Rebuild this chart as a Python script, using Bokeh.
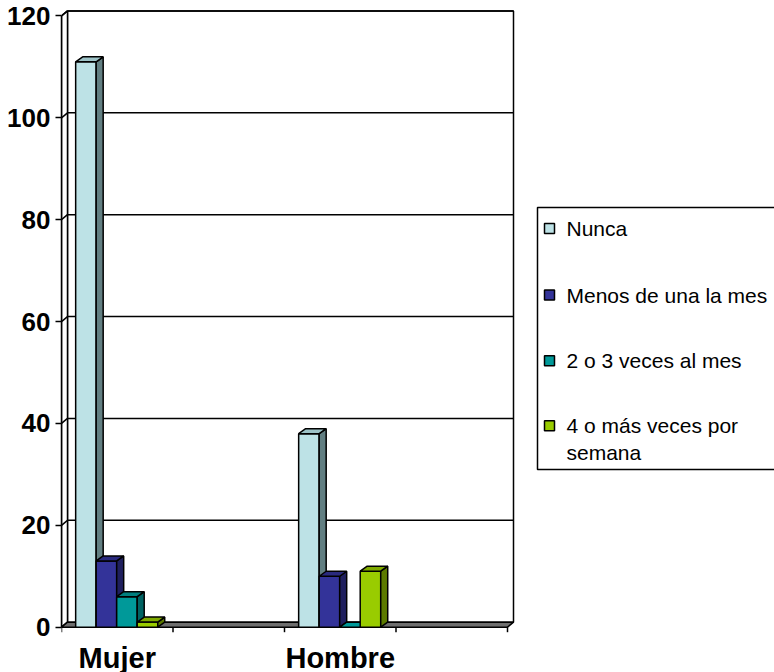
from bokeh.plotting import figure
from bokeh.models import Range1d, LinearAxis, FixedTicker, ColumnDataSource
from bokeh.core.properties import value
from bokeh.embed import file_html
from bokeh.resources import INLINE

# ---- data -------------------------------------------------------------
categories = ["Mujer", "Hombre"]
series_names = ["Nunca", "Menos de una la mes", "2 o 3 veces al mes", "4 o más veces por\nsemana"]
nunca = [111, 38]
menos_de_una = [13, 10]
dos_o_tres = [6, 0]
cuatro_o_mas = [1, 11]
y_ticks = [0, 20, 40, 60, 80, 100, 120]

series = [nunca, menos_de_una, dos_o_tres, cuatro_o_mas]

# face colours per series: front, top, side
front_colors = ["#BDE2E6", "#333399", "#009999", "#99CC00"]
top_colors = ["#9DC3C7", "#2A2A7E", "#007E7E", "#7FAA00"]
side_colors = ["#627F82", "#1F1F5E", "#006363", "#5C7A00"]

# ---- layout (pixels) ----------------------------------------------------
W, H = 774, 672
LEFT = 61            # x pixel of the front value axis
XS = 111.5           # pixels per category slot
Y0 = 626.7           # y pixel (from top) of value 0
YS = 5.094           # pixels per unit of value
N_SLOTS = 4
CATEGORY_SLOTS = [0, 2]
GROUP_OFFSET = 0.127
BAR_W = 0.184

WALL_DX, WALL_DY = 6 / XS, 5 / YS
BAR_DX, BAR_DY = 7 / XS, 5 / YS


def px_x(px):
    return (px - LEFT) / XS


def px_y(py):
    return (Y0 - py) / YS


p = figure(width=W, height=H,
           x_range=Range1d(0, (W - LEFT) / XS),
           y_range=Range1d(-(H - Y0) / YS, Y0 / YS),
           x_axis_location=None, y_axis_location=None,
           min_border_left=LEFT, min_border_right=0,
           min_border_top=0, min_border_bottom=0,
           output_backend="svg", toolbar_location=None)
p.outline_line_color = None
p.grid.visible = False
p.background_fill_color = "white"
p.border_fill_color = "white"

top_val = y_ticks[-1]
right = N_SLOTS

# back wall and left side wall
p.patch([WALL_DX, right + WALL_DX, right + WALL_DX, WALL_DX],
        [WALL_DY, WALL_DY, top_val + WALL_DY, top_val + WALL_DY],
        fill_color="white", line_color="black", line_width=1.5)
p.patch([0, WALL_DX, WALL_DX, 0],
        [0, WALL_DY, top_val + WALL_DY, top_val],
        fill_color="white", line_color="black", line_width=1.5)

# grid lines on the walls
gx0, gx1, gy0, gy1 = [], [], [], []
for v in y_ticks[1:]:
    gx0 += [WALL_DX, 0]
    gx1 += [right + WALL_DX, WALL_DX]
    gy0 += [v + WALL_DY, v]
    gy1 += [v + WALL_DY, v + WALL_DY]
p.segment(gx0, gy0, gx1, gy1, line_color="black", line_width=1.5)

# floor
p.patch([0, right, right + WALL_DX, WALL_DX],
        [0, 0, WALL_DY, WALL_DY],
        fill_color="#6E6E6E", line_color="black", line_width=1.5)

# category tick marks
tick_len = 5 / YS
p.segment(list(range(N_SLOTS + 1)), [0] * (N_SLOTS + 1),
          list(range(N_SLOTS + 1)), [-tick_len] * (N_SLOTS + 1),
          line_color="black", line_width=1.5)

# 3D columns
xs, ys, fills = [], [], []
for ci, slot in enumerate(CATEGORY_SLOTS):
    for si, vals in enumerate(series):
        v = vals[ci]
        x0 = slot + GROUP_OFFSET + si * BAR_W
        x1 = x0 + BAR_W
        if v > 0:
            # front face
            xs.append([x0, x1, x1, x0]); ys.append([0, 0, v, v]); fills.append(front_colors[si])
            # side face
            xs.append([x1, x1 + BAR_DX, x1 + BAR_DX, x1]); ys.append([0, BAR_DY, v + BAR_DY, v]); fills.append(side_colors[si])
        # top face
        xs.append([x0, x1, x1 + BAR_DX, x0 + BAR_DX]); ys.append([v, v, v + BAR_DY, v + BAR_DY])
        fills.append(top_colors[si] if v > 0 else front_colors[si])
p.patches("xs", "ys", source=ColumnDataSource(dict(xs=xs, ys=ys, fill=fills)),
          fill_color="fill", line_color="black", line_width=1.5)

# category labels
p.text(x=[s + 0.5 for s in CATEGORY_SLOTS], y=[px_y(657)] * len(categories), text=categories,
       text_font=value("Liberation Sans"), text_font_size="29px", text_font_style="bold",
       text_align="center", text_baseline="middle", text_color="black")

# value axis
yaxis = LinearAxis(ticker=FixedTicker(ticks=y_ticks, minor_ticks=[]), bounds=(0, top_val))
yaxis.axis_line_color = "black"
yaxis.axis_line_width = 1.5
yaxis.major_tick_line_color = "black"
yaxis.major_tick_line_width = 1.5
yaxis.major_tick_out = 6
yaxis.major_tick_in = 0
yaxis.minor_tick_out = 0
yaxis.minor_tick_in = 0
yaxis.major_label_standoff = 5
yaxis.major_label_text_font = "Liberation Sans"
yaxis.major_label_text_font_style = "bold"
yaxis.major_label_text_font_size = "26px"
yaxis.major_label_text_color = "black"
p.add_layout(yaxis, "left")

# legend
p.patch([px_x(537), px_x(790), px_x(790), px_x(537)],
        [px_y(207), px_y(207), px_y(469), px_y(469)],
        fill_color="white", line_color="black", line_width=1.5)
sw_centers = [228, 294.5, 360.3, 425.3]
sw = 10
p.patches([[px_x(544), px_x(544 + sw), px_x(544 + sw), px_x(544)] for _ in sw_centers],
          [[px_y(c + sw / 2), px_y(c + sw / 2), px_y(c - sw / 2), px_y(c - sw / 2)] for c in sw_centers],
          fill_color=front_colors, line_color="black", line_width=1.5)
leg_lines, leg_y = [], []
for name, c in zip(series_names, sw_centers):
    for li, line in enumerate(name.split("\n")):
        leg_lines.append(line)
        leg_y.append(px_y(c + li * 27))
p.text(x=[px_x(566)] * len(leg_lines), y=leg_y, text=leg_lines,
       text_font=value("Liberation Sans"), text_font_size="21px",
       text_align="left", text_baseline="middle", text_color="black")

open("out.html", "w").write(file_html(p, INLINE))
